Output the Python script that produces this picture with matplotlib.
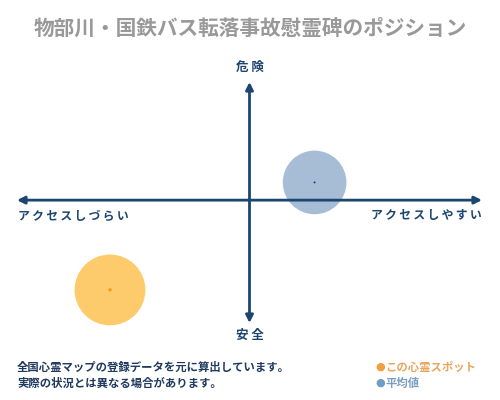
import matplotlib
matplotlib.use('Agg')
import matplotlib.pyplot as plt

plt.rcParams['font.family'] = ['Noto Sans CJK JP', 'DejaVu Sans']

# データ（横: アクセス、縦: 危険度）
title = '物部川・国鉄バス転落事故慰霊碑のポジション'
spot_names = ['この心霊スポット', '平均値']
access = [-3.0, 1.4]
danger = [-3.8, 0.75]
circle_sizes = [2600, 2100]
circle_colors = ['#fdca6c', '#a7bdd6']
dot_colors = ['#f39c12', '#1c3f66']
legend_text_colors = ['#e8a560', '#7b9fc2']
legend_dot_colors = ['#f0a040', '#6f9cc6']
axis_labels = {'top': '危 険', 'bottom': '安 全',
               'left': 'アクセスしづらい', 'right': 'アクセスしやすい'}
notes = ['全国心霊マップの登録データを元に算出しています。',
         '実際の状況とは異なる場合があります。']

navy = '#1c4570'


def spaced(s):
    # 文字間を少し空ける（細いスペース）
    return '\u2009'.join(s)


fig = plt.figure(figsize=(5, 4), dpi=100)
fig.patch.set_facecolor('white')

# 軸エリア
ax = fig.add_axes([17 / 500, (400 - 323) / 400, 465 / 500, 241 / 400])
ax.set_xlim(-5, 5)
ax.set_ylim(-5.2, 5)
ax.axis('off')

# 円
ax.scatter(access, danger, s=circle_sizes, c=circle_colors, zorder=2,
           linewidths=0, clip_on=False)
ax.scatter(access, danger, s=[6, 2], c=dot_colors, zorder=4, linewidths=0,
           clip_on=False)

# 矢印の軸
arrow = dict(arrowstyle='<|-|>', color=navy, lw=2, mutation_scale=11,
             shrinkA=0, shrinkB=0)
ax.annotate('', xy=(5, 0), xytext=(-5, 0), arrowprops=arrow, zorder=3)
ax.annotate('', xy=(0, 5), xytext=(0, -5.2), arrowprops=arrow, zorder=3)

# ラベル
fig.text(0.5, 1 - 28 / 400, title, ha='center', va='center',
         fontsize=14.9, fontweight='bold', color='#999999')
fig.text(250 / 500, 1 - 67 / 400, axis_labels['top'], ha='center', va='center',
         fontsize=9, fontweight='bold', color=navy)
fig.text(250 / 500, 1 - 335 / 400, axis_labels['bottom'], ha='center', va='center',
         fontsize=9, fontweight='bold', color=navy)
fig.text(18 / 500, 1 - 216 / 400, spaced(axis_labels['left']), ha='left',
         va='center', fontsize=8.5, fontweight='bold', color=navy)
fig.text(482 / 500, 1 - 216 / 400, spaced(axis_labels['right']), ha='right',
         va='center', fontsize=8.5, fontweight='bold', color=navy)

# 注記
for i, line in enumerate(notes):
    fig.text(17 / 500, 1 - (367 + 16 * i) / 400, line, ha='left', va='center',
             fontsize=8.2, fontweight='bold', color='#1f3a5f')

# 凡例
for i, name in enumerate(spot_names):
    y = 1 - (367 + 16 * i) / 400
    fig.text(380 / 500, y, '●', ha='center', va='center', fontsize=8,
             color=legend_dot_colors[i], family=['DejaVu Sans'])
    fig.text(385 / 500, y, name, ha='left', va='center', fontsize=8.2,
             fontweight='bold', color=legend_text_colors[i])

fig.savefig('out.png', dpi=100, facecolor='white')
